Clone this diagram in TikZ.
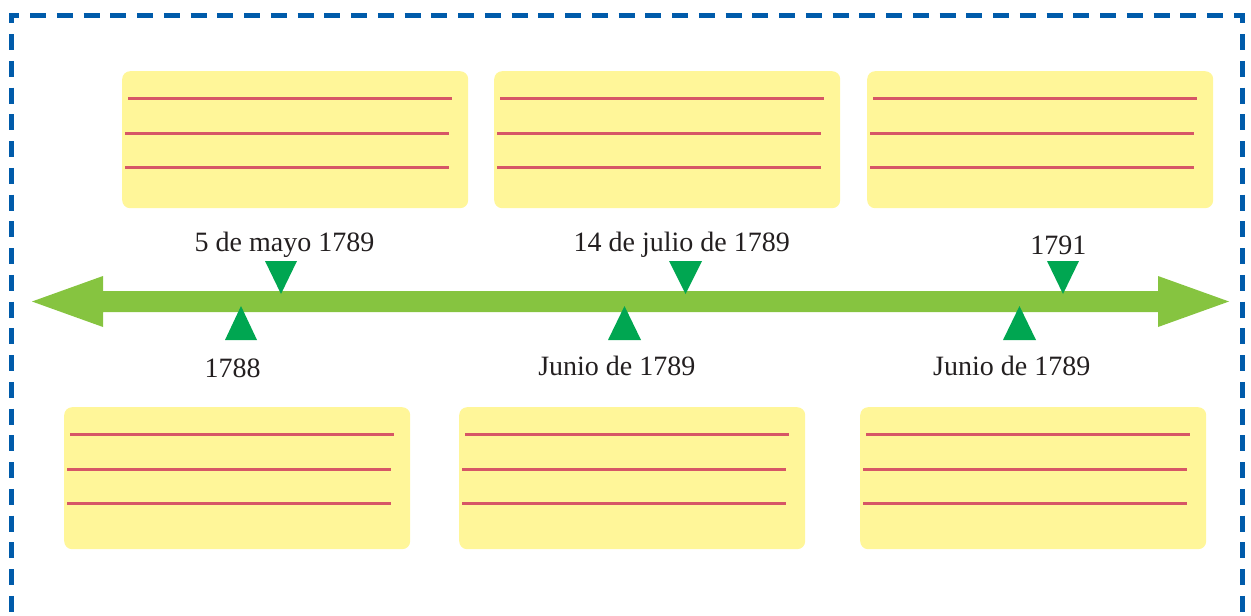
\documentclass[tikz,border=0pt]{standalone}
\usepackage{fontspec}
\setmainfont{Liberation Serif}
\usetikzlibrary{calc}
\definecolor{frameblue}{RGB}{0,91,170}
\definecolor{arrowgreen}{RGB}{134,196,64}
\definecolor{trigreen}{RGB}{0,166,81}
\definecolor{cardyellow}{RGB}{255,246,153}
\definecolor{redline}{RGB}{214,86,102}
\definecolor{textdark}{RGB}{35,31,32}
\begin{document}
\begin{tikzpicture}[x=1pt,y=-1pt,
  card/.style={fill=cardyellow, rounded corners=8pt, minimum width=346pt, minimum height=#1, anchor=north west, inner sep=0pt, draw=none},
  lbl/.style={font=\fontsize{28}{32}\selectfont, text=textdark, anchor=base, inner sep=0pt},
  wline/.style={draw=redline, line width=2.5pt},
  framedash/.style={draw=frameblue, line width=5pt, dash pattern=on 16pt off 10.75pt, dash phase=7.75pt},
  tri/.style={fill=trigreen, draw=none}]
\useasboundingbox (0,0) rectangle (1251,616);
\clip (0,0) rectangle (1251,616);
% dashed frame
\draw[framedash] (11,15) -- (1242,15);
\draw[framedash] (11,15) -- (11,640);
\draw[framedash] (1242,15) -- (1242,640);
\fill[frameblue] (8.5,12.5) rectangle (13.5,17.5);
\fill[frameblue] (1239.5,12.5) rectangle (1244.5,17.5);
% cards
\node[card=137pt] (t1) at (122,71) {};
\node[card=137pt] (t2) at (494,71) {};
\node[card=137pt] (t3) at (867,71) {};
\node[card=142pt] (b1) at (64,407) {};
\node[card=142pt] (b2) at (459,407) {};
\node[card=142pt] (b3) at (860,407) {};
\foreach \b in {t1,t2,t3,b1,b2,b3} {
  \draw[wline] ($(\b.north west)+(6,27.5)$) -- ($(\b.north west)+(330,27.5)$);
  \draw[wline] ($(\b.north west)+(3,62.5)$) -- ($(\b.north west)+(327,62.5)$);
  \draw[wline] ($(\b.north west)+(3,96.5)$) -- ($(\b.north west)+(327,96.5)$);
}
% timeline arrow
\fill[arrowgreen] (32,301.5) -- (103,276) -- (103,291) -- (1158,291) -- (1158,276)
  -- (1229,301.5) -- (1158,327) -- (1158,312) -- (103,312) -- (103,327) -- cycle;
% markers above (pointing down)
\fill[tri] (265,261) -- (297,261) -- (281,294) -- cycle;
\fill[tri] (669,261) -- (702,261) -- (685.5,294) -- cycle;
\fill[tri] (1047,261) -- (1079,261) -- (1063,294) -- cycle;
% markers below (pointing up)
\fill[tri] (225,340) -- (257,340) -- (241,306) -- cycle;
\fill[tri] (608,340) -- (641,340) -- (624.5,306) -- cycle;
\fill[tri] (1003,340) -- (1036,340) -- (1019.5,306) -- cycle;
% labels
\node[lbl] (la1) at (284.5,251.7) {5 de mayo 1789};
\node[lbl] (la2) at (681.7,251.7) {14 de julio de 1789};
\node[lbl] (la3) at (1058.3,254) {1791};
\node[lbl] (lb1) at (232.7,377.3) {1788};
\node[lbl] (lb2) at (616.8,375) {Junio de 1789};
\node[lbl] (lb3) at (1011.7,375) {Junio de 1789};
\end{tikzpicture}
\end{document}
